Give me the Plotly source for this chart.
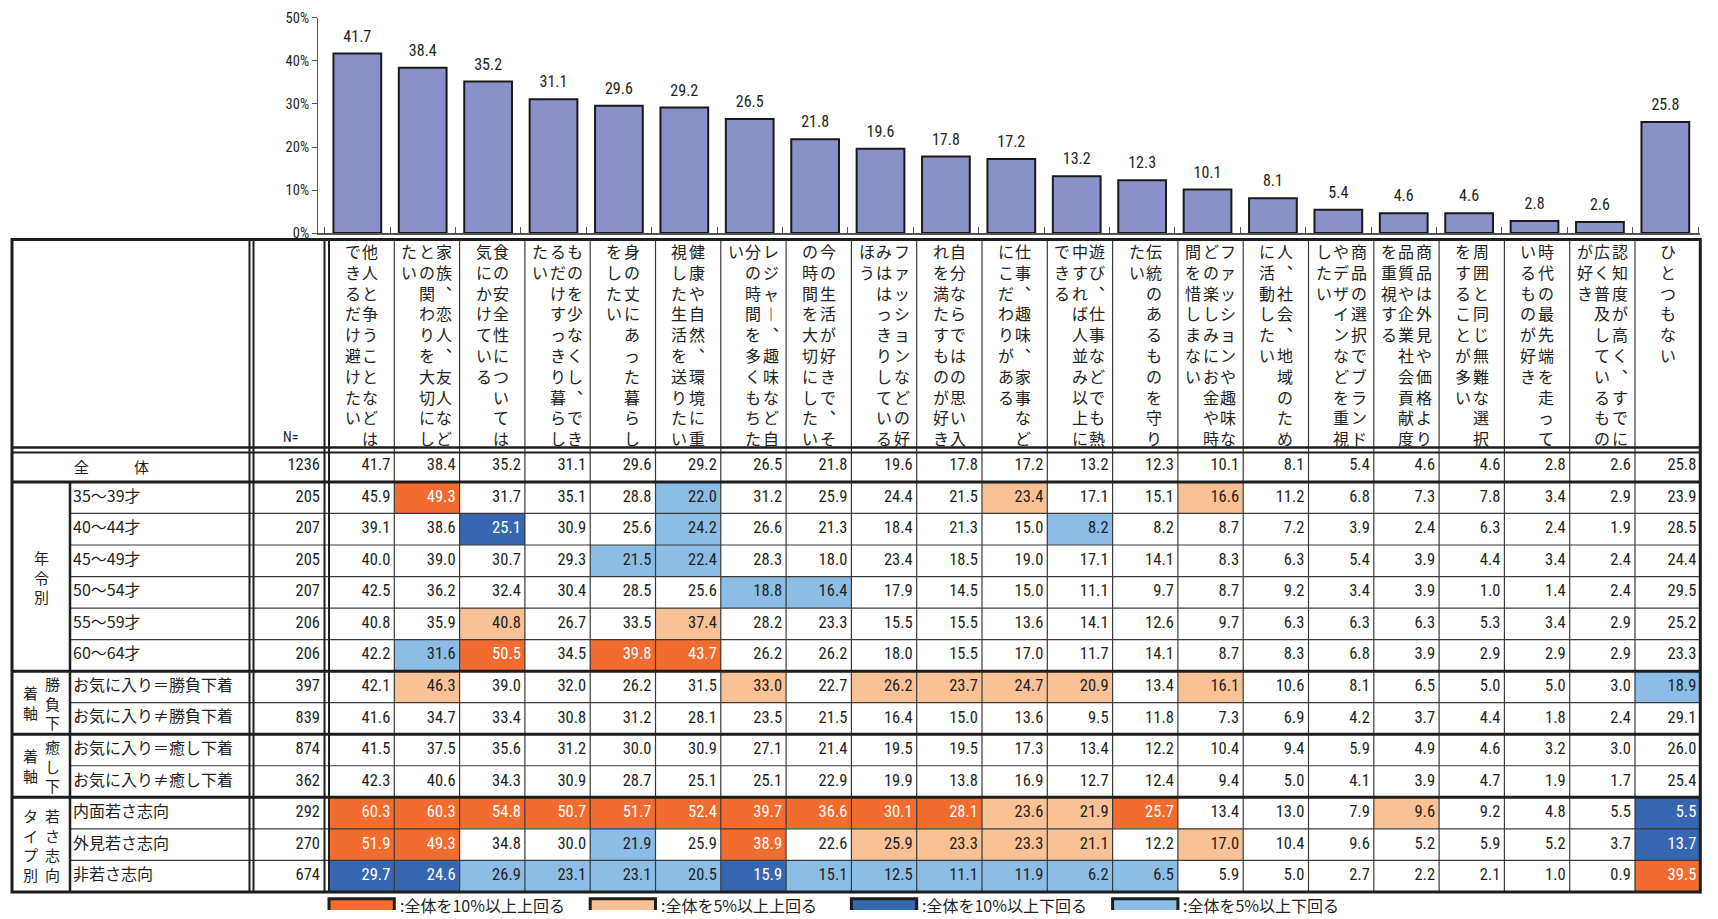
import plotly.graph_objects as go

# ---- data ----------------------------------------------------------------
categories = [
    "他人と争うことなどはできるだけ避けたい",
    "家族、恋人、友人などとの関わりを大切にしたい",
    "食の安全性については気にかけている",
    "ものを少なくし、できるだけすっきり暮らしたい",
    "身の丈にあった暮らしをしたい",
    "健康や自然、環境に重視した生活を送りたい",
    "レジャー、趣味など自分の時間を多くもちたい",
    "今の生活が好きで、その時間を大切にしたい",
    "ファッションなどの好みははっきりしているほう",
    "自分ならではの思い入れを満たすものが好き",
    "仕事、趣味、家事などにこだわりがある",
    "遊び、仕事などでも熱中すれば人並み以上にできる",
    "伝統のあるものを守りたい",
    "ファッションや趣味などの楽しみにお金や時間を惜しまない",
    "人、社会、地域のために活動したい",
    "商品の選択でブランドやデザインなどを重視したい",
    "商品は外見や価格より品質や企業社会貢献度を重視する",
    "周囲と同じ無難な選択をすることが多い",
    "時代の最先端を走っているものが好き",
    "認知度が高く、すでに広く普及しているものが好き",
    "ひとつもない",
]

overall = [41.7, 38.4, 35.2, 31.1, 29.6, 29.2, 26.5, 21.8, 19.6, 17.8, 17.2,
           13.2, 12.3, 10.1, 8.1, 5.4, 4.6, 4.6, 2.8, 2.6, 25.8]

y_ticks = [0, 10, 20, 30, 40, 50]

total_label = "全　　　体"
row_labels = ["35～39才", "40～44才", "45～49才", "50～54才", "55～59才", "60～64才",
              "お気に入り＝勝負下着", "お気に入り≠勝負下着",
              "お気に入り＝癒し下着", "お気に入り≠癒し下着",
              "内面若さ志向", "外見若さ志向", "非若さ志向"]

group_cols = [["年令別"], ["勝負下", "着軸"], ["癒し下", "着軸"], ["若さ志向", "タイプ別"]]
group_sizes = [6, 2, 2, 3]

n_values = [1236, 205, 207, 205, 207, 206, 206, 397, 839, 874, 362, 292, 270, 674]

table = [
    overall,
    [45.9, 49.3, 31.7, 35.1, 28.8, 22.0, 31.2, 25.9, 24.4, 21.5, 23.4, 17.1, 15.1, 16.6, 11.2, 6.8, 7.3, 7.8, 3.4, 2.9, 23.9],
    [39.1, 38.6, 25.1, 30.9, 25.6, 24.2, 26.6, 21.3, 18.4, 21.3, 15.0, 8.2, 8.2, 8.7, 7.2, 3.9, 2.4, 6.3, 2.4, 1.9, 28.5],
    [40.0, 39.0, 30.7, 29.3, 21.5, 22.4, 28.3, 18.0, 23.4, 18.5, 19.0, 17.1, 14.1, 8.3, 6.3, 5.4, 3.9, 4.4, 3.4, 2.4, 24.4],
    [42.5, 36.2, 32.4, 30.4, 28.5, 25.6, 18.8, 16.4, 17.9, 14.5, 15.0, 11.1, 9.7, 8.7, 9.2, 3.4, 3.9, 1.0, 1.4, 2.4, 29.5],
    [40.8, 35.9, 40.8, 26.7, 33.5, 37.4, 28.2, 23.3, 15.5, 15.5, 13.6, 14.1, 12.6, 9.7, 6.3, 6.3, 6.3, 5.3, 3.4, 2.9, 25.2],
    [42.2, 31.6, 50.5, 34.5, 39.8, 43.7, 26.2, 26.2, 18.0, 15.5, 17.0, 11.7, 14.1, 8.7, 8.3, 6.8, 3.9, 2.9, 2.9, 2.9, 23.3],
    [42.1, 46.3, 39.0, 32.0, 26.2, 31.5, 33.0, 22.7, 26.2, 23.7, 24.7, 20.9, 13.4, 16.1, 10.6, 8.1, 6.5, 5.0, 5.0, 3.0, 18.9],
    [41.6, 34.7, 33.4, 30.8, 31.2, 28.1, 23.5, 21.5, 16.4, 15.0, 13.6, 9.5, 11.8, 7.3, 6.9, 4.2, 3.7, 4.4, 1.8, 2.4, 29.1],
    [41.5, 37.5, 35.6, 31.2, 30.0, 30.9, 27.1, 21.4, 19.5, 19.5, 17.3, 13.4, 12.2, 10.4, 9.4, 5.9, 4.9, 4.6, 3.2, 3.0, 26.0],
    [42.3, 40.6, 34.3, 30.9, 28.7, 25.1, 25.1, 22.9, 19.9, 13.8, 16.9, 12.7, 12.4, 9.4, 5.0, 4.1, 3.9, 4.7, 1.9, 1.7, 25.4],
    [60.3, 60.3, 54.8, 50.7, 51.7, 52.4, 39.7, 36.6, 30.1, 28.1, 23.6, 21.9, 25.7, 13.4, 13.0, 7.9, 9.6, 9.2, 4.8, 5.5, 5.5],
    [51.9, 49.3, 34.8, 30.0, 21.9, 25.9, 38.9, 22.6, 25.9, 23.3, 23.3, 21.1, 12.2, 17.0, 10.4, 9.6, 5.2, 5.9, 5.2, 3.7, 13.7],
    [29.7, 24.6, 26.9, 23.1, 23.1, 20.5, 15.9, 15.1, 12.5, 11.1, 11.9, 6.2, 6.5, 5.9, 5.0, 2.7, 2.2, 2.1, 1.0, 0.9, 39.5],
]

# 0: none, 1: +5pt, 2: +10pt, 3: -5pt, 4: -10pt versus 全体
flags = [
    [0] * 21,
    [0, 2, 0, 0, 0, 3, 0, 0, 0, 0, 1, 0, 0, 1, 0, 0, 0, 0, 0, 0, 0],
    [0, 0, 4, 0, 0, 3, 0, 0, 0, 0, 0, 3, 0, 0, 0, 0, 0, 0, 0, 0, 0],
    [0, 0, 0, 0, 3, 3, 0, 0, 0, 0, 0, 0, 0, 0, 0, 0, 0, 0, 0, 0, 0],
    [0, 0, 0, 0, 0, 0, 3, 3, 0, 0, 0, 0, 0, 0, 0, 0, 0, 0, 0, 0, 0],
    [0, 0, 1, 0, 0, 1, 0, 0, 0, 0, 0, 0, 0, 0, 0, 0, 0, 0, 0, 0, 0],
    [0, 3, 2, 0, 2, 2, 0, 0, 0, 0, 0, 0, 0, 0, 0, 0, 0, 0, 0, 0, 0],
    [0, 1, 0, 0, 0, 0, 1, 0, 1, 1, 1, 1, 0, 1, 0, 0, 0, 0, 0, 0, 3],
    [0] * 21,
    [0] * 21,
    [0] * 21,
    [2, 2, 2, 2, 2, 2, 2, 2, 2, 2, 1, 1, 2, 0, 0, 0, 1, 0, 0, 0, 4],
    [2, 2, 0, 0, 3, 0, 2, 0, 1, 1, 1, 1, 0, 1, 0, 0, 0, 0, 0, 0, 4],
    [4, 4, 3, 3, 3, 3, 4, 3, 3, 3, 3, 3, 3, 0, 0, 0, 0, 0, 0, 0, 2],
]

legend_labels = [":全体を10%以上上回る", ":全体を5%以上上回る",
                 ":全体を10%以上下回る", ":全体を5%以上下回る"]
legend_codes = [2, 1, 4, 3]

# ---- styling -------------------------------------------------------------
W, H = 1718, 919
# vertical calibration seen in earlier renders: picture_y = A_Y + S_Y * page_y
A_Y, S_Y = 5.8, 0.982
JP = "Noto Sans CJK JP"
NUM = "Liberation Sans Narrow, Arial Narrow, Roboto Condensed, Noto Sans CJK JP, sans-serif"
TXT = "#231f20"
BAR = "#8a90c8"
FILL = {0: "#ffffff", 1: "#f8c196", 2: "#f26b2f", 3: "#8cbde6", 4: "#3767b1"}
DARK = "#1e1e1e"
THIN = "#3a3a3a"

# table geometry, picture pixels converted to axis units
COL_W = 65.3
X_LEFT = 329.0
ROW_H = 31.55
Y_MID0 = 464.2


def page_y(py):
    return (py - A_Y) / S_Y


def xu(px):
    return (px - X_LEFT) / COL_W - 0.5


def yu(py):
    return (py - Y_MID0) / ROW_H


n_rows = len(table)
n_cols = len(categories)
VERT = {"、": "︑", "ー": "︱"}

fig = go.Figure()

# bars and their value labels
fig.add_trace(go.Bar(
    x=categories, y=overall, xaxis="x2", yaxis="y",
    marker=dict(color=BAR, line=dict(color="#1a1a1a", width=2)),
    hoverinfo="skip",
))
fig.add_trace(go.Scatter(
    x=categories, y=overall, xaxis="x2", yaxis="y", mode="markers+text",
    marker=dict(size=11, opacity=0), texttemplate="%{y:.1f}",
    textposition="top center", cliponaxis=False,
    textfont=dict(family=NUM, size=16, color=TXT), hoverinfo="skip",
))

# cell fills
cscale = []
for code in range(5):
    cscale.append([code / 5, FILL[code]])
    cscale.append([(code + 1) / 5, FILL[code]])
fig.add_trace(go.Heatmap(
    z=flags, x=list(range(n_cols)), y=list(range(n_rows)),
    xaxis="x", yaxis="y2", colorscale=cscale, zmin=-0.5, zmax=4.5,
    showscale=False, hoverinfo="skip",
))

# cell numbers, right aligned
xs, ys, ts, cs = [], [], [], []
for r in range(n_rows):
    for j in range(n_cols):
        xs.append(j + 0.5 - 4 / COL_W)
        ys.append(r)
        ts.append(f"{table[r][j]:.1f}")
        cs.append("#ffffff" if flags[r][j] in (2, 4) else TXT)
fig.add_trace(go.Scatter(
    x=xs, y=ys, xaxis="x", yaxis="y2", mode="text", text=ts,
    textposition="middle left", textfont=dict(family=NUM, size=16.5, color=cs),
    hoverinfo="skip",
))

# N column
fig.add_trace(go.Scatter(
    x=[xu(320)] * n_rows, y=list(range(n_rows)), xaxis="x", yaxis="y2",
    mode="text", text=[str(v) for v in n_values], textposition="middle left",
    textfont=dict(family=NUM, size=16.5, color=TXT), hoverinfo="skip",
))

# row labels
fig.add_trace(go.Scatter(
    x=[xu(73)] * len(row_labels), y=list(range(1, n_rows)), xaxis="x", yaxis="y2",
    mode="text", text=row_labels, textposition="middle right",
    textfont=dict(family=JP, size=16, color=TXT), hoverinfo="skip",
))

annotations = []

# vertical header texts, columns read right to left
HEAD_PITCH = 17.5
for j, lab in enumerate(categories):
    chunks = [lab[i:i + 10] for i in range(0, len(lab), 10)]
    k = len(chunks)
    for m, ch in enumerate(chunks):
        xc = j + ((k - 1) / 2 - m) * HEAD_PITCH / COL_W
        annotations.append(dict(
            x=xc, y=yu(234.5), xref="x", yref="y2", showarrow=False,
            xanchor="center", yanchor="top",
            text="<br>".join(VERT.get(c, c) for c in ch),
            font=dict(family=JP, size=16, color=TXT),
        ))

# group labels
start = 1
for cols, size in zip(group_cols, group_sizes):
    yc = start + (size - 1) / 2
    k = len(cols)
    for m, col in enumerate(cols):
        px = 41 + ((k - 1) / 2 - m) * 22
        annotations.append(dict(
            x=xu(px), y=yc, xref="x", yref="y2", showarrow=False,
            xanchor="center", yanchor="middle", text="<br>".join(col),
            font=dict(family=JP, size=15, color=TXT),
        ))
    start += size

annotations.append(dict(x=xu(111), y=0, xref="x", yref="y2", showarrow=False,
                        text=total_label, font=dict(family=JP, size=15, color=TXT)))
annotations.append(dict(x=xu(290), y=yu(435), xref="x", yref="y2", showarrow=False,
                        text="N=", font=dict(family=NUM, size=14, color=TXT)))

# table rules
shapes = []


def line(x0, y0, x1, y1, w, c):
    shapes.append(dict(type="line", xref="x", yref="y2", x0=x0, y0=y0, x1=x1, y1=y1,
                       line=dict(color=c, width=w), layer="above"))


x_l, x_r = xu(12), n_cols - 0.5
y_t, y_b = yu(237.5), n_rows - 0.5
x_grp = xu(70)

for j in range(n_cols - 1):
    line(j + 0.5, y_t, j + 0.5, y_b, 1.2, THIN)
bounds = []
acc = 0
for s in group_sizes:
    acc += s
    bounds.append(acc + 0.5)
for r in range(1, n_rows - 1):
    if r + 0.5 not in bounds:
        line(x_grp, r + 0.5, x_r, r + 0.5, 1.2, THIN)
for b in bounds[:-1]:
    line(x_l, b, x_r, b, 3, DARK)
line(x_l, 0.5, x_r, 0.5, 3, DARK)
line(x_l, yu(445.5), x_r, yu(445.5), 2.5, DARK)
line(x_l, yu(450.5), x_r, yu(450.5), 2, DARK)
line(x_grp, 0.5, x_grp, y_b, 2.5, DARK)
for px in (249.5, 253.5, 324.5, 329):
    line(xu(px), y_t, xu(px), y_b, 2, DARK)
shapes.append(dict(type="rect", xref="x", yref="y2", x0=x_l, x1=x_r, y0=y_t, y1=y_b,
                   line=dict(color=DARK, width=3), layer="above"))

# colour key
for k, (lab, code) in enumerate(zip(legend_labels, legend_codes)):
    c0 = 4 * k
    shapes.append(dict(type="rect", xref="x", yref="y2", x0=c0 - 0.5, x1=c0 + 0.5,
                       y0=yu(897), y1=yu(940), fillcolor=FILL[code],
                       line=dict(color=DARK, width=3), layer="above"))
    annotations.append(dict(x=c0 + 0.55, y=yu(903), xref="x", yref="y2", showarrow=False,
                            xanchor="left", yanchor="middle", text=lab,
                            font=dict(family=JP, size=16, color=TXT)))

fig.update_layout(
    width=W, height=H, autosize=False,
    margin=dict(l=0, r=0, t=0, b=0),
    paper_bgcolor="white", plot_bgcolor="rgba(0,0,0,0)",
    showlegend=False, bargap=0.27,
    xaxis=dict(domain=[0, 1], range=[xu(0), xu(W)], visible=False,
               anchor="y2", fixedrange=True),
    yaxis2=dict(domain=[0, 1], range=[yu(A_Y + S_Y * H), yu(A_Y)], visible=False,
                anchor="x", fixedrange=True),
    xaxis2=dict(domain=[318 / W, 1700 / W], type="category",
                range=[-0.601, 20.53], anchor="y", showline=True, linecolor="#555555",
                linewidth=1.5, ticks="inside", ticklen=6, tickcolor="#555555",
                tickson="boundaries", showticklabels=False, showgrid=False,
                fixedrange=True),
    yaxis=dict(domain=[1 - page_y(231) / H, 1 - page_y(15.7) / H], range=[0, 50],
               anchor="x2", tickvals=y_ticks, ticktext=[f"{v}%" for v in y_ticks],
               ticklabeloverflow="allow",
               showline=True, linecolor="#555555", linewidth=1, ticks="outside",
               ticklen=5, tickcolor="#555555",
               tickfont=dict(family=NUM, size=14.5, color=TXT),
               showgrid=False, zeroline=False, fixedrange=True),
    shapes=shapes, annotations=annotations,
)

fig.write_html("out.html", config={"displayModeBar": False},
               post_script="document.body.style.margin='0';")
